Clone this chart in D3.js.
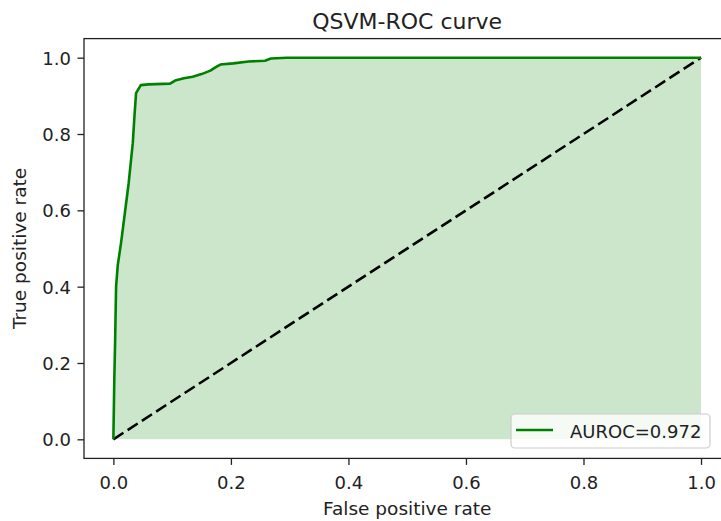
<!DOCTYPE html>
<html>
<head>
<meta charset="utf-8">
<script src="https://cdn.jsdelivr.net/npm/d3@7/dist/d3.min.js"></script>
<style>
  html, body { margin: 0; padding: 0; background: #fff; }
  svg { display: block; font-family: "DejaVu Sans", sans-serif; }
</style>
</head>
<body>
<svg id="chart" width="721" height="521"></svg>
<script>
// ROC curve of the QSVM classifier
const fpr = [0, 0.0015, 0.003, 0.0046, 0.0075, 0.013, 0.0216, 0.026, 0.033, 0.036, 0.0386, 0.0466,
             0.06, 0.0965, 0.105, 0.12, 0.135, 0.15, 0.165, 0.175, 0.182, 0.204, 0.23, 0.258,
             0.268, 0.295, 1.0];
const tpr = [0, 0.15, 0.26, 0.40, 0.457, 0.514, 0.618, 0.671, 0.776, 0.85, 0.907, 0.928,
             0.930, 0.932, 0.940, 0.946, 0.950, 0.957, 0.966, 0.976, 0.982, 0.985, 0.990, 0.992,
             0.998, 1.0, 1.0];
const chanceLine = [0, 1];
const tickValues = [0, 0.2, 0.4, 0.6, 0.8, 1.0];
const aurocLabel = "AUROC=0.972";

const svg = d3.select("#chart");
const plotLeft = 84, plotRight = 730.4, plotTop = 38.6, plotBottom = 458.4;

const x = d3.scaleLinear().domain([-0.05, 1.05]).range([plotLeft, plotRight]);
const y = d3.scaleLinear().domain([-0.05, 1.05]).range([plotBottom, plotTop]);

const pts = fpr.map((f, i) => ({ f, t: tpr[i] }));

// shaded area under the curve
svg.append("path")
  .datum(pts)
  .attr("fill", "green")
  .attr("fill-opacity", 0.2)
  .attr("d", d3.area().x(d => x(d.f)).y0(y(0)).y1(d => y(d.t)));

// chance diagonal
svg.append("line")
  .attr("x1", x(chanceLine[0])).attr("y1", y(chanceLine[0]))
  .attr("x2", x(chanceLine[1])).attr("y2", y(chanceLine[1]))
  .attr("stroke", "black")
  .attr("stroke-width", 2.6)
  .attr("stroke-dasharray", "12,5");

// ROC curve
svg.append("path")
  .datum(pts)
  .attr("fill", "none")
  .attr("stroke", "green")
  .attr("stroke-width", 2.6)
  .attr("stroke-linejoin", "round")
  .attr("d", d3.line().x(d => x(d.f)).y(d => y(d.t)));

// axes
const fmt = d3.format(".1f");
const xAxis = svg.append("g")
  .attr("transform", `translate(0,${plotBottom})`)
  .call(d3.axisBottom(x).tickValues(tickValues).tickFormat(fmt).tickSize(6.5).tickSizeOuter(0));
xAxis.select(".domain").remove();
xAxis.selectAll(".tick line").attr("stroke", "#222").attr("stroke-width", 1.3);
xAxis.selectAll(".tick text")
  .attr("y", 31).attr("dy", 0)
  .attr("font-size", 18).attr("fill", "#222")
  .attr("font-family", "DejaVu Sans");

const yAxis = svg.append("g")
  .attr("transform", `translate(${plotLeft},0)`)
  .call(d3.axisLeft(y).tickValues(tickValues).tickFormat(fmt).tickSize(6.5).tickSizeOuter(0));
yAxis.select(".domain").remove();
yAxis.selectAll(".tick line").attr("stroke", "#222").attr("stroke-width", 1.3);
yAxis.selectAll(".tick text")
  .attr("x", -13).attr("dy", 6.5)
  .attr("font-size", 18).attr("fill", "#222")
  .attr("font-family", "DejaVu Sans");

// frame
svg.append("rect")
  .attr("x", plotLeft).attr("y", plotTop)
  .attr("width", plotRight - plotLeft).attr("height", plotBottom - plotTop)
  .attr("fill", "none")
  .attr("stroke", "#222")
  .attr("stroke-width", 1.3);

// title and axis labels
svg.append("text")
  .attr("x", (plotLeft + plotRight) / 2).attr("y", 29)
  .attr("text-anchor", "middle")
  .attr("font-size", 22).attr("fill", "#222")
  .text("QSVM-ROC curve");

svg.append("text")
  .attr("x", (plotLeft + plotRight) / 2).attr("y", 515)
  .attr("text-anchor", "middle")
  .attr("font-size", 18.5).attr("fill", "#222")
  .text("False positive rate");

svg.append("text")
  .attr("transform", `translate(26,${(plotTop + plotBottom) / 2}) rotate(-90)`)
  .attr("text-anchor", "middle")
  .attr("font-size", 18.5).attr("fill", "#222")
  .text("True positive rate");

// legend
const lg = svg.append("g");
lg.append("rect")
  .attr("x", 511).attr("y", 414)
  .attr("width", 199).attr("height", 34)
  .attr("rx", 4)
  .attr("fill", "white").attr("fill-opacity", 0.8)
  .attr("stroke", "#cccccc").attr("stroke-width", 1.2);
lg.append("line")
  .attr("x1", 516).attr("x2", 553)
  .attr("y1", 430).attr("y2", 430)
  .attr("stroke", "green").attr("stroke-width", 2.6);
lg.append("text")
  .attr("x", 570).attr("y", 438)
  .attr("font-size", 18).attr("fill", "#222")
  .text(aurocLabel);
</script>
</body>
</html>
